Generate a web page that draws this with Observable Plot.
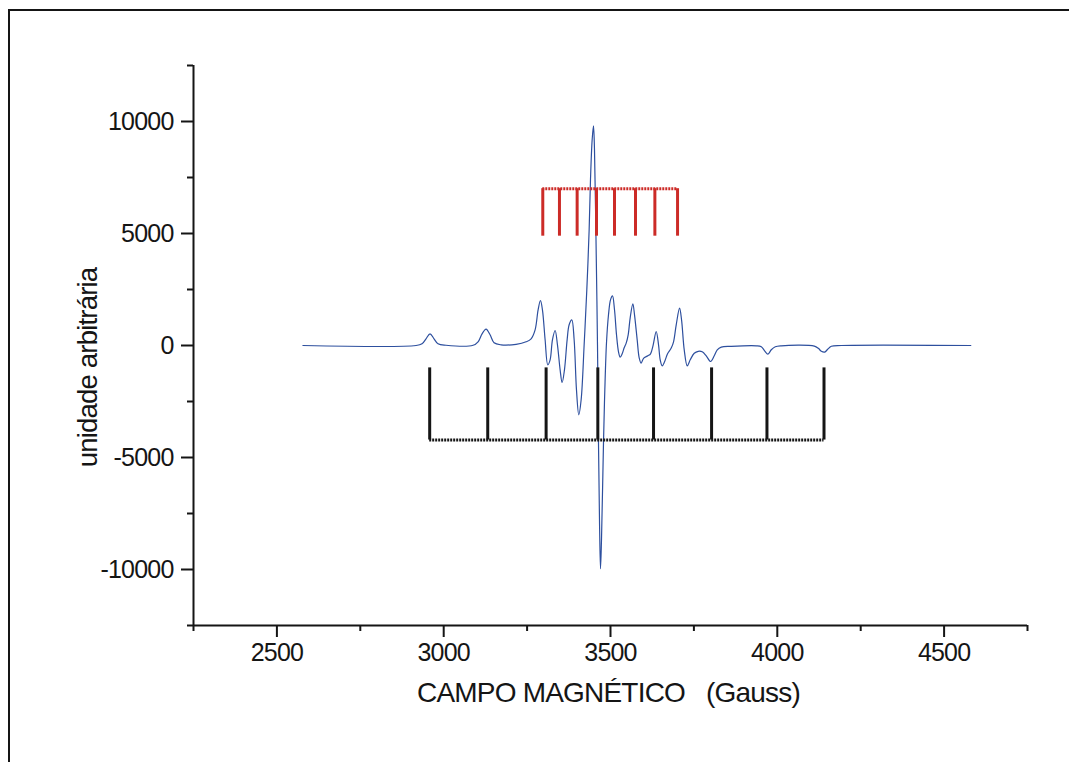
<!DOCTYPE html>
<html>
<head>
<meta charset="utf-8">
<script src="https://cdn.jsdelivr.net/npm/d3@7"></script>
<script src="https://cdn.jsdelivr.net/npm/@observablehq/plot@0.6"></script>
<style>
  html, body { margin: 0; padding: 0; background: #fff; overflow: hidden; }
  #chart svg text { letter-spacing: -0.8px; }
</style>
</head>
<body>
<div id="chart"></div>
<script>
// EPR spectrum (field in Gauss, intensity in arbitrary units)
const fieldG = [2578, 2917, 2935, 2947, 2959, 2971, 2983, 3007, 3088, 3103, 3115, 3127, 3139, 3151, 3172, 3217, 3247, 3262, 3274, 3283, 3290, 3296, 3304, 3312, 3319, 3326, 3334, 3341, 3349, 3355, 3362, 3370, 3376, 3384, 3391, 3398, 3405, 3412, 3421, 3429, 3436, 3440, 3445, 3449, 3452, 3457, 3461, 3464, 3467, 3470, 3473, 3479, 3483, 3488, 3494, 3500, 3506, 3512, 3518, 3524, 3529, 3535, 3541, 3547, 3553, 3559, 3567, 3572, 3580, 3586, 3592, 3599, 3612, 3620, 3628, 3637, 3644, 3649, 3655, 3662, 3671, 3682, 3689, 3697, 3707, 3713, 3721, 3730, 3739, 3751, 3763, 3775, 3787, 3800, 3811, 3820, 3832, 3862, 3937, 3952, 3962, 3972, 3982, 3994, 4012, 4111, 4123, 4132, 4142, 4151, 4162, 4192, 4580];
const intensity = [0, 0, 76, 300, 522, 300, 76, 10, 10, 165, 522, 732, 478, 120, 30, 54, 165, 300, 700, 1590, 2009, 1594, 254, -861, -640, 254, 670, 30, -1085, -1652, -1085, 254, 924, 1147, 254, -1978, -3094, -2424, 31, 2487, 5165, 7397, 9183, 9808, 8736, 4272, 31, -4343, -7781, -9968, -8674, -4343, -1978, 120, 1370, 2040, 2219, 1594, 478, -281, -518, -370, -103, 107, 478, 1237, 1861, 1370, 254, -549, -786, -571, -460, -370, 31, 625, 31, -638, -906, -728, -370, -116, 165, 924, 1670, 1147, -192, -906, -638, -348, -259, -281, -460, -714, -460, -192, -71, -36, -13, -58, -237, -384, -192, -58, -13, -27, -125, -259, -295, -170, -36, 0, 0];

// Stick diagrams (line positions)
const blackSticks = [2958, 3132, 3307, 3462, 3629, 3803, 3969, 4140];
const blackStickTop = -1000;
const blackStickBase = -4220;
const redSticks = [3297, 3347, 3400, 3458, 3512, 3575, 3633, 3701];
const redStickBottom = 4880;
const redStickBase = 7000;

// Axis ticks
const xMajor = [2500, 3000, 3500, 4000, 4500];
const xMinor = [2250, 2750, 3250, 3750, 4250, 4750];
const yMajor = [-10000, -5000, 0, 5000, 10000];
const yMinor = [-12500, -7500, -2500, 2500, 7500, 12500];
const xLabel = "CAMPO MAGNÉTICO\u00a0\u00a0\u00a0(Gauss)";
const yLabel = "unidade arbitrária";

const spectrum = fieldG.map((g, i) => ({g, v: intensity[i]}));

const ink = "#151515";
const font = "'Liberation Sans', Arial, sans-serif";

const chart = Plot.plot({
  width: 1069,
  height: 762,
  marginLeft: 193,
  marginRight: 42,
  marginTop: 65,
  marginBottom: 137,
  style: {fontFamily: font, fontSize: "25px", color: ink, background: "#fff"},
  x: {domain: [2250, 4750], label: null},
  y: {domain: [-12500, 12500], label: null},
  marks: [
    Plot.line(spectrum, {x: "g", y: "v", stroke: "#2d4f9e", strokeWidth: 1.2, curve: "catmull-rom"}),
    Plot.ruleX(blackSticks, {x: d => d, y1: blackStickBase, y2: blackStickTop, stroke: ink, strokeWidth: 3}),
    Plot.ruleY([blackStickBase], {y: d => d, x1: blackSticks[0], x2: blackSticks[blackSticks.length - 1], stroke: ink, strokeWidth: 3, strokeDasharray: "2,1"}),
    Plot.ruleX(redSticks, {x: d => d, y1: redStickBottom, y2: redStickBase, stroke: "#cc2b27", strokeWidth: 3}),
    Plot.ruleY([redStickBase], {y: d => d, x1: redSticks[0], x2: redSticks[redSticks.length - 1], stroke: "#cc2b27", strokeWidth: 3, strokeDasharray: "2,1"}),
    Plot.ruleX([2250], {stroke: ink, strokeWidth: 2}),
    Plot.ruleY([-12500], {stroke: ink, strokeWidth: 2}),
    Plot.axisX(xMajor, {tickSize: 12, tickPadding: 6, tickFormat: d => String(d), stroke: ink, strokeWidth: 2, fill: ink, fontSize: 25, label: null}),
    Plot.axisX(xMinor, {tickSize: 6, tickFormat: () => "", stroke: ink, strokeWidth: 2, label: null}),
    Plot.axisY(yMajor, {tickSize: 12, tickPadding: 8, tickFormat: d => String(d), stroke: ink, strokeWidth: 2, fill: ink, fontSize: 25, label: null}),
    Plot.axisY(yMinor, {tickSize: 6, tickFormat: () => "", stroke: ink, strokeWidth: 2, label: null}),
    Plot.text([xLabel], {text: d => d, frameAnchor: "bottom", textAnchor: "middle", lineAnchor: "bottom", dy: 76, dx: -2, fontSize: 28, fill: ink}),
    Plot.text([yLabel], {text: d => d, frameAnchor: "left", textAnchor: "middle", lineAnchor: "bottom", rotate: -90, dx: -97, dy: 22, fontSize: 27.5, fill: ink})
  ]
});

// page frame
d3.select(chart).append("rect")
  .attr("x", 9).attr("y", 10).attr("width", 1100).attr("height", 800)
  .attr("fill", "none").attr("stroke", ink).attr("stroke-width", 2);

document.getElementById("chart").appendChild(chart);
</script>
</body>
</html>
